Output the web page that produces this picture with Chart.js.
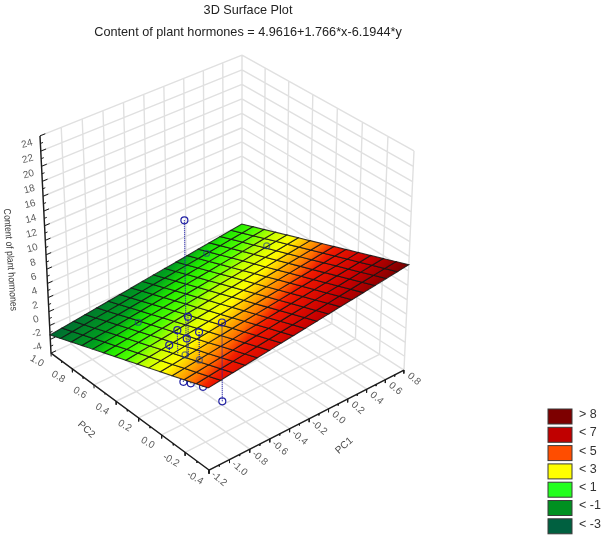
<!DOCTYPE html>
<html>
<head>
<meta charset="utf-8">
<title>3D Surface Plot</title>
<script src="https://cdn.jsdelivr.net/npm/chart.js@4"></script>
<style>
  html, body { margin: 0; padding: 0; background: #ffffff; }
  canvas { display: block; }
</style>
</head>
<body>
<canvas id="plot" width="603" height="536"></canvas>
<script>
// Fitted regression plane, as stated in the subtitle
const PLANE_INTERCEPT = 4.9616;
const PLANE_PC1 = 1.766;
const PLANE_PC2 = -6.1944;

// Axis ranges and ticks
const PC1_RANGE = [-1.2, 0.8];
const PC2_RANGE = [-0.4, 1.0];
const Z_RANGE = [-6, 24];
const PC1_TICKS = [-1.2, -1.0, -0.8, -0.6, -0.4, -0.2, 0.0, 0.2, 0.4, 0.6, 0.8];
const PC2_TICKS = [-0.4, -0.2, 0.0, 0.2, 0.4, 0.6, 0.8, 1.0];
const Z_TICKS = [-6, -4, -2, 0, 2, 4, 6, 8, 10, 12, 14, 16, 18, 20, 22, 24];
const Z_LABELLED = [-4, -2, 0, 2, 4, 6, 8, 10, 12, 14, 16, 18, 20, 22, 24];

// Mesh resolution of the fitted surface
const PC1_CELLS = 17;
const PC2_CELLS = 14;

// Observations above the plane (a stem joins each to the plane)
const ABOVE_PC1 = [-0.778, -0.951, -0.946, -0.956, -0.974, -0.946, -1.055];
const ABOVE_PC2 = [0.150, -0.021, 0.075, -0.013, 0.122, -0.108, -0.389];
const ABOVE_Z = [18.8, 8.9, 5.98, 5.91, 3.59, 7.77, 12.9];

// Observations lying practically on the plane
const ON_PC1 = [-0.946, -0.942, -0.748, 0.303, 0.592];
const ON_PC2 = [-0.108, 0.016, 0.598, 0.900, 0.606];
const ON_Z = [3.99, 3.22, -0.04, -0.05, 2.30];

// Observations below the plane
const BELOW_PC1 = [-1.055, -1.155, -1.160, -1.160];
const BELOW_PC2 = [-0.389, -0.155, -0.221, -0.322];
const BELOW_Z = [2.35, 2.96, 3.56, 4.27];

// Colour legend
const LEGEND_LABELS = ['> 8', '< 7', '< 5', '< 3', '< 1', '< -1', '< -3'];
const LEGEND_COLORS = ['#7d0000', '#c00000', '#ff4d00', '#ffff00', '#22ff1e', '#009020', '#006040'];

// Continuous colour ramp used on the surface
const RAMP_Z = [-3.4, -1, 0, 1, 2, 3, 3.8, 4.5, 5.2, 7, 8, 9];
const RAMP_RGB = [
  [0, 104, 52], [0, 160, 30], [30, 232, 0], [80, 255, 0], [200, 255, 0], [255, 255, 0],
  [255, 176, 0], [255, 112, 0], [240, 24, 0], [200, 0, 0], [160, 0, 0], [112, 0, 0]
];

// Perspective camera: homogeneous projection of the unit cube onto the page
const CAM_X = [209, 218.3, -154.36, -14.18];
const CAM_Y = [470, -78.65, -91.8, -241];
const CAM_W = [1, 0.0577, 0.0714, -0.0598];

const PAGE_RIGHT = 496;
const PAGE_BOTTOM = 536;
const HEADER_HEIGHT = 40.2;

function project(pc1, pc2, z) {
  const u = (pc1 - PC1_RANGE[0]) / (PC1_RANGE[1] - PC1_RANGE[0]);
  const v = (pc2 - PC2_RANGE[0]) / (PC2_RANGE[1] - PC2_RANGE[0]);
  const w = (z - Z_RANGE[0]) / (Z_RANGE[1] - Z_RANGE[0]);
  const combine = c => c[0] + c[1] * u + c[2] * v + c[3] * w;
  const d = combine(CAM_W);
  return { x: combine(CAM_X) / d, y: combine(CAM_Y) / d };
}

const planeZ = (pc1, pc2) => PLANE_INTERCEPT + PLANE_PC1 * pc1 + PLANE_PC2 * pc2;

function rampColor(z) {
  const last = RAMP_Z.length - 1;
  if (z <= RAMP_Z[0]) return `rgb(${RAMP_RGB[0].join(',')})`;
  if (z >= RAMP_Z[last]) return `rgb(${RAMP_RGB[last].join(',')})`;
  let i = 0;
  while (z > RAMP_Z[i + 1]) i++;
  const t = (z - RAMP_Z[i]) / (RAMP_Z[i + 1] - RAMP_Z[i]);
  const mix = RAMP_RGB[i].map((c, k) => Math.round(c + (RAMP_RGB[i + 1][k] - c) * t));
  return `rgb(${mix.join(',')})`;
}

// Gradient running across one mesh cell, along the steepest direction of z on the page
function cellGradient(chart, corners) {
  const zMid = corners.reduce((s, c) => s + c[2], 0) / 4;
  const fallback = rampColor(zMid);
  if (!chart.scales.x || !chart.scales.y || !chart.chartArea) return fallback;
  const px = corners.map(c => {
    const p = project(c[0], c[1], c[2]);
    return { x: chart.scales.x.getPixelForValue(p.x), y: chart.scales.y.getPixelForValue(p.y), z: c[2] };
  });
  const e1x = px[1].x - px[0].x, e1y = px[1].y - px[0].y, dz1 = px[1].z - px[0].z;
  const e2x = px[3].x - px[0].x, e2y = px[3].y - px[0].y, dz2 = px[3].z - px[0].z;
  const det = e1x * e2y - e1y * e2x;
  const gx = (dz1 * e2y - dz2 * e1y) / det;
  const gy = (e1x * dz2 - e2x * dz1) / det;
  const g2 = gx * gx + gy * gy;
  const cx = px.reduce((s, p) => s + p.x, 0) / 4;
  const cy = px.reduce((s, p) => s + p.y, 0) / 4;
  const zLow = Math.min(...px.map(p => p.z));
  const zHigh = Math.max(...px.map(p => p.z));
  const ends = [
    cx + gx * (zLow - zMid) / g2, cy + gy * (zLow - zMid) / g2,
    cx + gx * (zHigh - zMid) / g2, cy + gy * (zHigh - zMid) / g2
  ];
  if (!ends.every(Number.isFinite)) return fallback;
  const grad = chart.ctx.createLinearGradient(ends[0], ends[1], ends[2], ends[3]);
  for (let k = 0; k <= 4; k++) grad.addColorStop(k / 4, rampColor(zLow + (zHigh - zLow) * k / 4));
  return grad;
}

const GAP = { x: NaN, y: NaN };

function polyline(segments, color, width, dash) {
  const data = [];
  segments.forEach(seg => {
    seg.forEach(p => data.push(project(p[0], p[1], p[2])));
    data.push(GAP);
  });
  return {
    type: 'scatter', data, showLine: true, borderColor: color, borderWidth: width,
    borderDash: dash || [], pointRadius: 0, fill: false, tension: 0, clip: false
  };
}

function markers(pc1, pc2, z, color, radius) {
  return {
    type: 'scatter',
    data: pc1.map((a, i) => project(a, pc2[i], z[i])),
    showLine: false, pointStyle: 'circle', pointRadius: radius,
    pointBorderColor: color, pointBorderWidth: 1.2, pointBackgroundColor: 'rgba(0,0,0,0)', clip: false
  };
}

const stems = (pc1, pc2, z) => pc1.map((a, i) => [[a, pc2[i], z[i]], [a, pc2[i], planeZ(a, pc2[i])]]);

const [x0, x1] = PC1_RANGE, [y0, y1] = PC2_RANGE, [z0, z1] = Z_RANGE;

// Painted back to front; the list is reversed below because Chart.js paints dataset 0 last
const layers = [];

const GRID = '#e0e0e0';
const wallLines = [];
PC1_TICKS.forEach(a => {
  wallLines.push([[a, y1, z0], [a, y1, z1]]);
  wallLines.push([[a, y0, z0], [a, y1, z0]]);
});
PC2_TICKS.forEach(b => {
  wallLines.push([[x1, b, z0], [x1, b, z1]]);
  wallLines.push([[x0, b, z0], [x1, b, z0]]);
});
Z_TICKS.forEach(c => {
  wallLines.push([[x0, y1, c], [x1, y1, c]]);
  wallLines.push([[x1, y0, c], [x1, y1, c]]);
});
layers.push(polyline(wallLines, GRID, 1.4));

// Axis lines with major and minor ticks
const AXIS = '#1c1c1c';
layers.push(polyline([
  [[x0, y1, z0], [x0, y1, z1]],
  [[x0, y0, z0], [x0, y1, z0]],
  [[x0, y0, z0], [x1, y0, z0]]
], AXIS, 1.4));
const tickMarks = [];
PC1_TICKS.forEach((a, i) => {
  tickMarks.push([[a, y0, z0], [a, y0, z0 - 0.5]]);
  if (i > 0) tickMarks.push([[a - 0.1, y0, z0], [a - 0.1, y0, z0 - 0.25]]);
});
PC2_TICKS.forEach((b, i) => {
  tickMarks.push([[x0, b, z0], [x0, b, z0 - 0.5]]);
  if (i > 0) tickMarks.push([[x0, b - 0.1, z0], [x0, b - 0.1, z0 - 0.25]]);
});
Z_TICKS.forEach((c, i) => {
  tickMarks.push([[x0, y1, c], [x0 + 0.05, y1, c]]);
  if (i > 0) tickMarks.push([[x0, y1, c - 1], [x0 + 0.025, y1, c - 1]]);
});
layers.push(polyline(tickMarks, AXIS, 1));

// Observations the plane hides part of
const STEM = '#2020a4';
layers.push(polyline(stems(BELOW_PC1, BELOW_PC2, BELOW_Z), STEM, 1.2, [1, 1]));
layers.push(markers(BELOW_PC1, BELOW_PC2, BELOW_Z, STEM, 3.5));

// Surface mesh, one closed dataset per cell
for (let i = 0; i < PC1_CELLS; i++) {
  for (let j = 0; j < PC2_CELLS; j++) {
    const a0 = x0 + (x1 - x0) * i / PC1_CELLS, a1 = x0 + (x1 - x0) * (i + 1) / PC1_CELLS;
    const b0 = y0 + (y1 - y0) * j / PC2_CELLS, b1 = y0 + (y1 - y0) * (j + 1) / PC2_CELLS;
    const corners = [[a0, b0], [a1, b0], [a1, b1], [a0, b1]].map(c => [c[0], c[1], planeZ(c[0], c[1])]);
    const outline = corners.concat([corners[0]]).map(c => project(c[0], c[1], c[2]));
    layers.push({
      type: 'scatter', data: outline, showLine: true, tension: 0, pointRadius: 0, clip: false,
      borderColor: 'rgba(20,20,20,0.85)', borderWidth: 1.05, fill: 'shape',
      backgroundColor: ctx => cellGradient(ctx.chart, corners)
    });
  }
}

// Observations in front of the plane
layers.push(polyline(stems(ABOVE_PC1, ABOVE_PC2, ABOVE_Z), STEM, 1.2, [1, 1]));
layers.push(markers(ON_PC1, ON_PC2, ON_Z, 'rgba(30,60,140,0.65)', 3));
layers.push(markers(ABOVE_PC1, ABOVE_PC2, ABOVE_Z, STEM, 3.5));

function placeText(chart, text, pos, dx, dy, degrees, font, color, squeeze) {
  const { ctx, scales } = chart;
  ctx.save();
  ctx.translate(scales.x.getPixelForValue(pos.x) + dx, scales.y.getPixelForValue(pos.y) + dy);
  ctx.rotate(degrees * Math.PI / 180);
  if (squeeze) ctx.scale(squeeze, 1);
  ctx.font = font;
  ctx.fillStyle = color;
  ctx.textAlign = 'center';
  ctx.textBaseline = 'middle';
  ctx.fillText(text, 0, 0);
  ctx.restore();
}

// Rotated tick labels, axis names and the colour key
const annotations = {
  id: 'annotations',
  afterDatasetsDraw(chart) {
    const { ctx } = chart;
    const tickFont = '10px "Liberation Sans", Arial, sans-serif';
    const tickColor = '#5a5a5a';
    PC1_TICKS.forEach(a => placeText(chart, a.toFixed(1), project(a, y0, z0), 10, 9, 40, tickFont, tickColor));
    PC2_TICKS.forEach(b => placeText(chart, b.toFixed(1), project(x0, b, z0), -14, 8, 30, tickFont, tickColor));
    Z_LABELLED.forEach(c => placeText(chart, String(c), project(x0, y1, c), -13, 8, -15, tickFont, tickColor));
    placeText(chart, 'PC1', project((x0 + x1) / 2, y0, z0), 35, 27, -42, tickFont, '#4a4a4a');
    placeText(chart, 'PC2', project(x0, (y0 + y1) / 2, z0), -41, 20, 42, tickFont, '#4a4a4a');
    placeText(chart, 'Content of plant hormones', project(x0, y1, 8), -36, 5, 86, '10px "Liberation Sans", Arial, sans-serif', '#3a3a3a', 0.87);

    ctx.save();
    ctx.font = '12.5px "Liberation Sans", Arial, sans-serif';
    ctx.textBaseline = 'middle';
    LEGEND_LABELS.forEach((label, i) => {
      const top = 409 + i * 18.3;
      ctx.fillStyle = LEGEND_COLORS[i];
      ctx.fillRect(548, top, 24, 15);
      ctx.strokeStyle = '#3a3a3a';
      ctx.lineWidth = 1;
      ctx.strokeRect(548, top, 24, 15);
      ctx.fillStyle = '#333333';
      ctx.fillText(label, 579, top + 5.5);
    });
    ctx.restore();
  }
};

new Chart(document.getElementById('plot'), {
  type: 'scatter',
  data: { datasets: layers.slice().reverse() },
  plugins: [annotations],
  options: {
    responsive: false,
    animation: false,
    events: [],
    devicePixelRatio: 1,
    layout: { autoPadding: false, padding: { top: 0, left: 0, bottom: 0, right: 603 - PAGE_RIGHT } },
    scales: {
      x: { type: 'linear', display: false, min: 0, max: PAGE_RIGHT },
      y: { type: 'linear', display: false, min: HEADER_HEIGHT, max: PAGE_BOTTOM, reverse: true }
    },
    plugins: {
      legend: { display: false },
      tooltip: { enabled: false },
      title: {
        display: true,
        text: '3D Surface Plot',
        color: '#222222',
        font: { family: '"Liberation Sans", Arial, sans-serif', size: 12.7, weight: 'normal', lineHeight: 1.2 },
        padding: { top: 2.4, bottom: 7.6 }
      },
      subtitle: {
        display: true,
        text: 'Content of plant hormones = 4.9616+1.766*x-6.1944*y',
        color: '#222222',
        font: { family: '"Liberation Sans", Arial, sans-serif', size: 12.7, weight: 'normal', lineHeight: 1.2 },
        padding: { top: 0, bottom: 0 }
      }
    }
  }
});
</script>
</body>
</html>
